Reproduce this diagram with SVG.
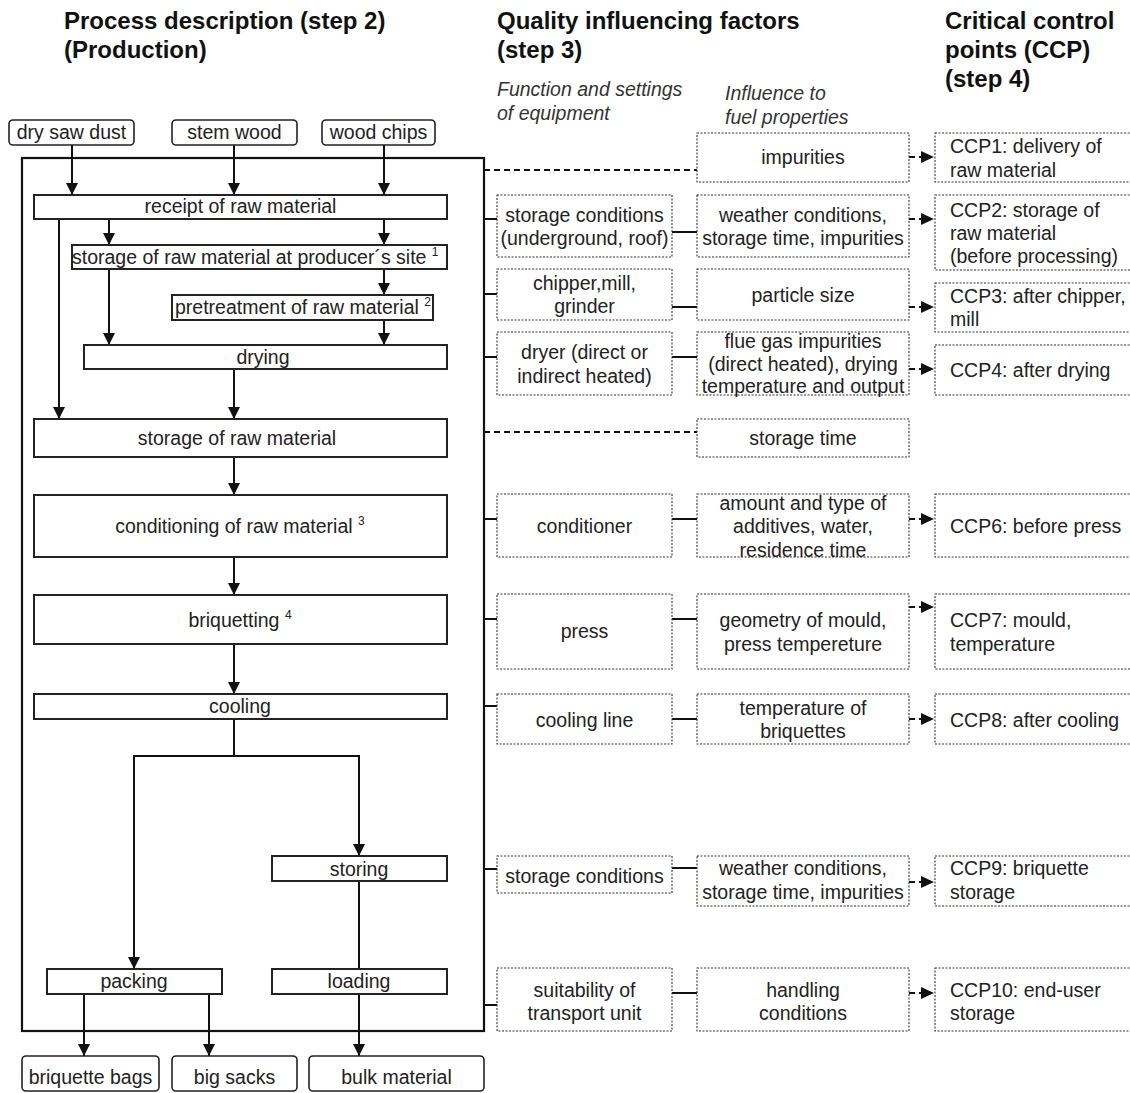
<svg xmlns="http://www.w3.org/2000/svg" width="1130" height="1093" viewBox="0 0 1130 1093">
<defs>
<style>
text{font-family:"Liberation Sans",Arial,sans-serif;font-size:19.5px;fill:#222}
.h{font-weight:bold;font-size:24px;fill:#111}
.it{font-style:italic;fill:#333}
.c{text-anchor:middle}
.sup{font-size:12px}
.box{fill:#fff;stroke:#222;stroke-width:2}
.in{fill:#fff;stroke:#222;stroke-width:1.6}
.dot{fill:#fff;stroke:#333;stroke-width:1.1;stroke-dasharray:2 1.5}
.flow{fill:none;stroke:#111;stroke-width:2}
.thin{fill:none;stroke:#111;stroke-width:2}
.dash{fill:none;stroke:#111;stroke-width:1.8;stroke-dasharray:6 4}
.ad{fill:none;stroke:#111;stroke-width:2;stroke-dasharray:6 4}
</style>
<marker id="ah" viewBox="0 0 12 12" refX="12" refY="6" markerWidth="12" markerHeight="12" markerUnits="userSpaceOnUse" orient="auto">
<path d="M0,0 L12,6 L0,12 Z" fill="#111"/>
</marker>
</defs>

<g id="headers">
<text class="h" x="64" y="29">Process description (step 2)</text>
<text class="h" x="64" y="58">(Production)</text>
<text class="h" x="497" y="29">Quality influencing factors</text>
<text class="h" x="497" y="58">(step 3)</text>
<text class="h" x="945" y="29">Critical control</text>
<text class="h" x="945" y="58">points (CCP)</text>
<text class="h" x="945" y="87">(step 4)</text>
<text class="it" x="497" y="96">Function and settings</text>
<text class="it" x="497" y="120">of equipment</text>
<text class="it" x="725" y="100">Influence to</text>
<text class="it" x="725" y="124">fuel properties</text>
</g>

<g id="frame"><rect x="22" y="158" width="462" height="873" fill="none" stroke="#111" stroke-width="2.2"/></g>

<g id="connectors">
<!-- inputs -->
<line class="flow" x1="72" y1="145" x2="72" y2="195" marker-end="url(#ah)"/>
<line class="flow" x1="234" y1="145" x2="234" y2="195" marker-end="url(#ah)"/>
<line class="flow" x1="384" y1="145" x2="384" y2="195" marker-end="url(#ah)"/>
<line class="flow" x1="59" y1="219" x2="59" y2="419" marker-end="url(#ah)"/>
<line class="flow" x1="109" y1="219" x2="109" y2="245" marker-end="url(#ah)"/>
<line class="flow" x1="384" y1="219" x2="384" y2="245" marker-end="url(#ah)"/>
<line class="flow" x1="109" y1="269" x2="109" y2="345" marker-end="url(#ah)"/>
<line class="flow" x1="384" y1="269" x2="384" y2="295" marker-end="url(#ah)"/>
<line class="flow" x1="384" y1="320" x2="384" y2="345" marker-end="url(#ah)"/>
<line class="flow" x1="234" y1="369" x2="234" y2="419" marker-end="url(#ah)"/>
<line class="flow" x1="234" y1="457" x2="234" y2="495" marker-end="url(#ah)"/>
<line class="flow" x1="234" y1="557" x2="234" y2="595" marker-end="url(#ah)"/>
<line class="flow" x1="234" y1="644" x2="234" y2="694" marker-end="url(#ah)"/>
<path class="flow" d="M234,719 V756 M134,756 H359"/>
<line class="flow" x1="134" y1="755" x2="134" y2="969" marker-end="url(#ah)"/>
<line class="flow" x1="359" y1="755" x2="359" y2="856" marker-end="url(#ah)"/>
<line class="flow" x1="359" y1="881" x2="359" y2="969"/>
<line class="flow" x1="84" y1="994" x2="84" y2="1056" marker-end="url(#ah)"/>
<line class="flow" x1="209" y1="994" x2="209" y2="1056" marker-end="url(#ah)"/>
<line class="flow" x1="359" y1="994" x2="359" y2="1056" marker-end="url(#ah)"/>
<!-- frame to factors -->
<line class="dash" x1="484" y1="170" x2="697" y2="170"/>
<line class="dash" x1="484" y1="432" x2="697" y2="432"/>
<path class="thin" d="M484,219 H497 M484,294 H497 M484,357 H497 M484,519 H497 M484,619 H497 M484,706 H497 M484,869 H497 M484,1005 H497"/>
<path class="thin" d="M672,232 H697 M672,307 H697 M672,357 H697 M672,519 H697 M672,619 H697 M672,719 H697 M672,868 H697 M672,993 H697"/>
<!-- to CCP -->
<path class="ad" d="M909,157 H921 M909,219 H921 M909,307 H921 M909,369 H921 M909,519 H921 M909,607 H921 M909,719 H921 M909,882 H921 M909,993 H921"/>
<g fill="#111">
<path d="M921,151 L934,157 L921,163 Z"/>
<path d="M921,213 L934,219 L921,225 Z"/>
<path d="M921,301 L934,307 L921,313 Z"/>
<path d="M921,363 L934,369 L921,375 Z"/>
<path d="M921,513 L934,519 L921,525 Z"/>
<path d="M921,601 L934,607 L921,613 Z"/>
<path d="M921,713 L934,719 L921,725 Z"/>
<path d="M921,876 L934,882 L921,888 Z"/>
<path d="M921,987 L934,993 L921,999 Z"/>
</g>
</g>

<g id="in-drysawdust"><rect class="in" x="9" y="120" width="125" height="25" rx="4"/><text class="c" x="71.5" y="139">dry saw dust</text></g>
<g id="in-stemwood"><rect class="in" x="172" y="120" width="125" height="25" rx="4"/><text class="c" x="234.5" y="139">stem wood</text></g>
<g id="in-woodchips"><rect class="in" x="322" y="120" width="113" height="25" rx="4"/><text class="c" x="378.5" y="139">wood chips</text></g>

<g id="p-receipt"><rect class="box" x="34" y="195" width="413" height="24"/><text class="c" x="240.5" y="213">receipt of raw material</text></g>
<g id="p-site"><rect class="box" x="72" y="245" width="375" height="24"/><text x="72" y="264">storage of raw material at producer´s site <tspan class="sup" dy="-8">1</tspan></text></g>
<g id="p-pretreat"><rect class="box" x="172" y="295" width="261" height="25"/><text x="175" y="314">pretreatment of raw material <tspan class="sup" dy="-8">2</tspan></text></g>
<g id="p-drying"><rect class="box" x="84" y="345" width="363" height="24"/><text class="c" x="263" y="364">drying</text></g>
<g id="p-storage"><rect class="box" x="34" y="419" width="413" height="38"/><text class="c" x="237" y="445">storage of raw material</text></g>
<g id="p-cond"><rect class="box" x="34" y="495" width="413" height="62"/><text class="c" x="240" y="533">conditioning of raw material <tspan class="sup" dy="-8">3</tspan></text></g>
<g id="p-briq"><rect class="box" x="34" y="595" width="413" height="49"/><text class="c" x="240" y="627">briquetting <tspan class="sup" dy="-8">4</tspan></text></g>
<g id="p-cooling"><rect class="box" x="34" y="694" width="413" height="25"/><text class="c" x="240" y="713">cooling</text></g>
<g id="p-storing"><rect class="box" x="272" y="856" width="175" height="25"/><text class="c" x="359" y="876">storing</text></g>
<g id="p-packing"><rect class="box" x="47" y="969" width="175" height="25"/><text class="c" x="134" y="988">packing</text></g>
<g id="p-loading"><rect class="box" x="272" y="969" width="175" height="25"/><text class="c" x="359" y="988">loading</text></g>

<g id="out-bags"><rect class="in" x="22" y="1056" width="137" height="35" rx="4"/><text class="c" x="90.5" y="1084">briquette bags</text></g>
<g id="out-sacks"><rect class="in" x="172" y="1056" width="125" height="35" rx="4"/><text class="c" x="234.5" y="1084">big sacks</text></g>
<g id="out-bulk"><rect class="in" x="309" y="1056" width="175" height="35" rx="4"/><text class="c" x="396.5" y="1084">bulk material</text></g>

<!-- equipment column -->
<g id="e-storagecond"><rect class="dot" x="497" y="195" width="175" height="62"/><text class="c" x="584.5" y="222">storage conditions</text><text class="c" x="584.5" y="245">(underground, roof)</text></g>
<g id="e-chipper"><rect class="dot" x="497" y="269" width="175" height="51"/><text class="c" x="584.5" y="290">chipper,mill,</text><text class="c" x="584.5" y="313">grinder</text></g>
<g id="e-dryer"><rect class="dot" x="497" y="332" width="175" height="63"/><text class="c" x="584.5" y="359">dryer (direct or</text><text class="c" x="584.5" y="383">indirect heated)</text></g>
<g id="e-conditioner"><rect class="dot" x="497" y="494" width="175" height="63"/><text class="c" x="584.5" y="533">conditioner</text></g>
<g id="e-press"><rect class="dot" x="497" y="594" width="175" height="75"/><text class="c" x="584.5" y="638">press</text></g>
<g id="e-coolingline"><rect class="dot" x="497" y="694" width="175" height="50"/><text class="c" x="584.5" y="727">cooling line</text></g>
<g id="e-storagecond2"><rect class="dot" x="497" y="856" width="175" height="37"/><text class="c" x="584.5" y="883">storage conditions</text></g>
<g id="e-transport"><rect class="dot" x="497" y="968" width="175" height="63"/><text class="c" x="584.5" y="997">suitability of</text><text class="c" x="584.5" y="1020">transport unit</text></g>

<!-- influence column -->
<g id="f-impurities"><rect class="dot" x="697" y="133" width="212" height="49"/><text class="c" x="803" y="164">impurities</text></g>
<g id="f-weather"><rect class="dot" x="697" y="195" width="212" height="62"/><text class="c" x="803" y="222">weather conditions,</text><text class="c" x="803" y="245">storage time, impurities</text></g>
<g id="f-particle"><rect class="dot" x="697" y="269" width="212" height="51"/><text class="c" x="803" y="302">particle size</text></g>
<g id="f-fluegas"><rect class="dot" x="697" y="332" width="212" height="63"/><text class="c" x="803" y="348">flue gas impurities</text><text class="c" x="803" y="371">(direct heated), drying</text><text class="c" x="803" y="393">temperature and output</text></g>
<g id="f-storagetime"><rect class="dot" x="697" y="419" width="212" height="38"/><text class="c" x="803" y="445">storage time</text></g>
<g id="f-additives"><rect class="dot" x="697" y="494" width="212" height="63"/><text class="c" x="803" y="510">amount and type of</text><text class="c" x="803" y="533">additives, water,</text><text class="c" x="803" y="557">residence time</text></g>
<g id="f-mould"><rect class="dot" x="697" y="594" width="212" height="75"/><text class="c" x="803" y="627">geometry of mould,</text><text class="c" x="803" y="651">press tempereture</text></g>
<g id="f-tempbriq"><rect class="dot" x="697" y="694" width="212" height="50"/><text class="c" x="803" y="715">temperature of</text><text class="c" x="803" y="738">briquettes</text></g>
<g id="f-weather2"><rect class="dot" x="697" y="856" width="212" height="50"/><text class="c" x="803" y="875">weather conditions,</text><text class="c" x="803" y="899">storage time, impurities</text></g>
<g id="f-handling"><rect class="dot" x="697" y="968" width="212" height="63"/><text class="c" x="803" y="997">handling</text><text class="c" x="803" y="1020">conditions</text></g>

<!-- CCP column -->
<g id="ccp1"><rect class="dot" x="935" y="133" width="200" height="49"/><text x="950" y="153">CCP1: delivery of</text><text x="950" y="177">raw material</text></g>
<g id="ccp2"><rect class="dot" x="935" y="195" width="200" height="75"/><text x="950" y="217">CCP2: storage of</text><text x="950" y="240">raw material</text><text x="950" y="263">(before processing)</text></g>
<g id="ccp3"><rect class="dot" x="935" y="283" width="200" height="49"/><text x="950" y="303">CCP3: after chipper,</text><text x="950" y="326">mill</text></g>
<g id="ccp4"><rect class="dot" x="935" y="345" width="200" height="50"/><text x="950" y="377">CCP4: after drying</text></g>
<g id="ccp6"><rect class="dot" x="935" y="494" width="200" height="63"/><text x="950" y="533">CCP6: before press</text></g>
<g id="ccp7"><rect class="dot" x="935" y="594" width="200" height="75"/><text x="950" y="627">CCP7: mould,</text><text x="950" y="651">temperature</text></g>
<g id="ccp8"><rect class="dot" x="935" y="694" width="200" height="50"/><text x="950" y="727">CCP8: after cooling</text></g>
<g id="ccp9"><rect class="dot" x="935" y="856" width="200" height="50"/><text x="950" y="875">CCP9: briquette</text><text x="950" y="899">storage</text></g>
<g id="ccp10"><rect class="dot" x="935" y="968" width="200" height="63"/><text x="950" y="997">CCP10: end-user</text><text x="950" y="1020">storage</text></g>
</svg>
